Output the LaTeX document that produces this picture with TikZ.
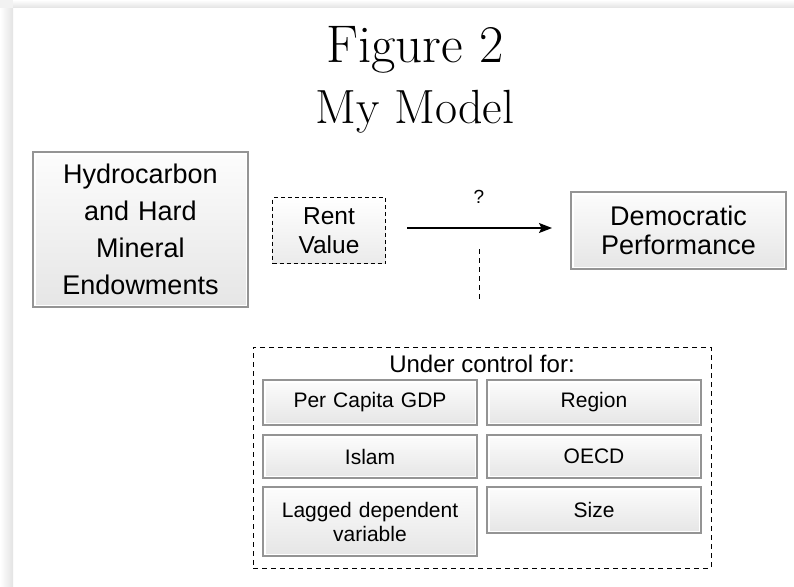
\documentclass[tikz,border=0pt]{standalone}
\usepackage{fontspec}
\setsansfont{Liberation Sans}
\usetikzlibrary{arrows.meta}
\begin{document}
\begin{tikzpicture}[x=1pt,y=-1pt,
  box/.style={draw=black!42, line width=2pt, top color=black!1, bottom color=black!10, align=center, inner sep=0pt, outer sep=0pt,
    path picture={\draw[white, line width=5pt] (path picture bounding box.south west) rectangle (path picture bounding box.north east);}},
  dbox/.style={draw=black, dash pattern=on 4pt off 3pt, line width=0.9pt, top color=white, bottom color=black!8, align=center, inner sep=0pt, outer sep=0pt},
  ctl/.style={box, minimum width=214pt, text width=210pt, font=\sffamily\fontsize{21}{24}\selectfont},
  ttl/.style={anchor=base, inner sep=0pt}
]
\useasboundingbox (0,0) rectangle (794,586);
\fill[white] (0,0) rectangle (794,586);
\shade[left color=white, right color=black!11] (0,8) rectangle (13,586);
\shade[top color=white, bottom color=black!11] (13,0) rectangle (794,8);
\fill[black!5] (0,0) rectangle (13,8);

% title
\node[ttl, font=\rmfamily\fontsize{53}{53}\selectfont] (t1) at (415,63) {Figure 2};
\node[ttl, font=\rmfamily\fontsize{48}{48}\selectfont] (t2) at (415,123) {My Model};

% main row
\node[box, minimum width=215pt, minimum height=155pt, text width=210pt,
      font=\sffamily\fontsize{27}{37}\selectfont] (hyd) at (140.5,229.5)
      {Hydrocarbon\\and Hard\\Mineral\\Endowments};
\node[dbox, minimum width=113pt, minimum height=66pt, text width=110pt,
      font=\sffamily\fontsize{24.5}{29}\selectfont] (rent) at (329,230.5) {Rent\\Value};
\node[box, minimum width=215pt, minimum height=77pt, text width=210pt,
      font=\sffamily\fontsize{27}{29}\selectfont] (dem) at (678.5,230.5)
      {Democratic\\Performance};

% arrow and label
\coordinate (a1) at (407,228);
\coordinate (a2) at (552,228);
\draw[line width=1.3pt, -{Stealth[length=13pt,width=10pt,inset=2.5pt]}] (a1) -- (a2);
\node[font=\sffamily\fontsize{19}{19}\selectfont, inner sep=0pt] (q) at (479,197) {?};

% control box
\node[draw=black, dash pattern=on 5pt off 4pt, line width=0.9pt, minimum width=458pt, minimum height=221pt, inner sep=0pt, outer sep=0pt] (ctrl) at (482,457.5) {};
\coordinate (v1) at (479,249);
\coordinate (v2) at (479,302);
\draw[line width=1pt, dash pattern=on 5pt off 4pt] (v1) -- (v2);
\node[ttl, font=\sffamily\fontsize{24}{24}\selectfont] (uc) at (482,372) {Under control for:};

\node[ctl, minimum height=45pt] (gdp) at (370,402.5) {Per Capita GDP};
\node[ctl, minimum height=45pt] (reg) at (594,402.5) {Region};
\node[ctl, minimum height=43pt] (isl) at (370,456.5) {Islam};
\node[ctl, minimum height=43pt] (oecd) at (594,456.5) {OECD};
\node[ctl, minimum height=69pt] (lag) at (370,521.5) {Lagged dependent\\variable};
\node[ctl, minimum height=46pt] (size) at (594,510) {Size};
\end{tikzpicture}
\end{document}
